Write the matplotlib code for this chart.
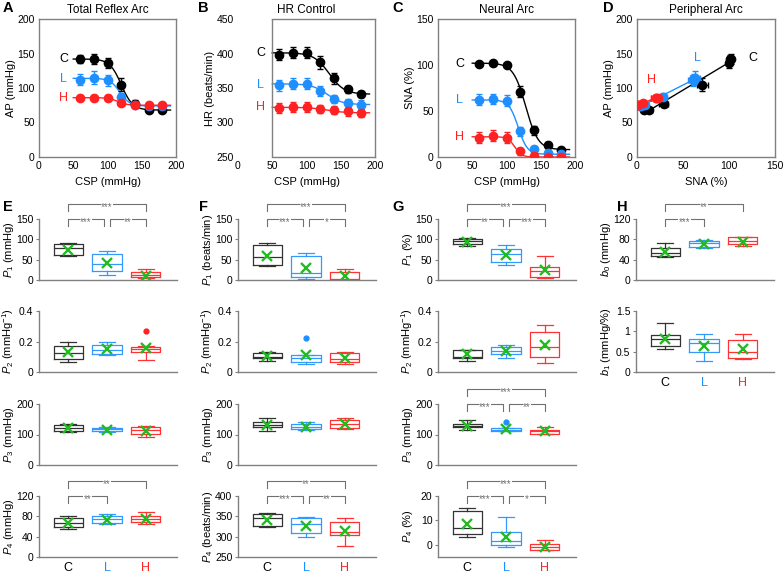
import matplotlib.pyplot as plt
import numpy as np

plt.rcParams['font.family'] = ['Liberation Sans', 'DejaVu Sans']
plt.rcParams['mathtext.fontset'] = 'custom'
plt.rcParams['mathtext.it'] = 'Liberation Sans:italic'
plt.rcParams['mathtext.rm'] = 'Liberation Sans'

groups = ['C', 'L', 'H']
colors = {'C': 'black', 'L': '#1f8fff', 'H': '#ff2222'}
box_colors = {'C': '#333333', 'L': '#3399ff', 'H': '#ff3333'}
frame_col = '#808080'
br_col = '#707070'

# ---- top row data (mean +/- SE) ----
csp = [60, 80, 100, 120, 140, 160, 180]

ap = {'C': [142, 142, 136, 105, 77, 68, 68],
      'L': [112, 115, 111, 87, 76, 74, 74],
      'H': [86, 86, 86, 78, 76, 75, 75]}
ap_err = {'C': [6, 7, 7, 10, 5, 3, 3],
          'L': [8, 9, 8, 6, 4, 3, 3],
          'H': [4, 4, 4, 3, 3, 3, 3]}

hr = {'C': [398, 401, 401, 387, 364, 348, 341],
      'L': [354, 356, 356, 346, 334, 328, 326],
      'H': [321, 322, 322, 320, 318, 316, 314]}
hr_err = {'C': [8, 8, 8, 9, 8, 5, 4],
          'L': [8, 8, 8, 7, 6, 6, 6],
          'H': [7, 7, 7, 6, 6, 6, 6]}

sna = {'C': [101, 102, 100, 71, 29, 13, 8],
       'L': [62, 63, 61, 28, 9, 4, 3],
       'H': [21, 23, 21, 6, 1, 0, 0]}
sna_err = {'C': [2, 1, 2, 6, 5, 3, 2],
           'L': [6, 5, 6, 5, 3, 2, 1],
           'H': [6, 6, 6, 4, 1, 1, 1]}

# four-parameter logistic fits (P1, P2, P3, P4)
ap_fit = {'C': (74, 0.12, 120, 68), 'L': (40, 0.14, 118, 74), 'H': (11, 0.15, 115, 75)}
hr_fit = {'C': (60, 0.09, 133, 341), 'L': (30, 0.09, 130, 326), 'H': (8, 0.08, 130, 314)}
sna_fit = {'C': (94, 0.11, 128, 8), 'L': (59, 0.15, 117, 3), 'H': (22, 0.2, 112, 0)}

# ---- box plot stats: (whislo, q1, med, q3, whishi, mean, fliers) ----
E_rows = [
    [(59, 61, 78, 88, 90, 75, []), (12, 22, 40, 63, 72, 42, []), (4, 7, 12, 19, 28, 10, [])],
    [(0.066, 0.086, 0.127, 0.17, 0.198, 0.13, []), (0.11, 0.12, 0.147, 0.18, 0.2, 0.15, []),
     (0.077, 0.13, 0.15, 0.167, 0.17, 0.155, [0.266])],
    [(109, 113, 122, 131, 136, 120, []), (107, 112, 118, 122, 125, 116, []), (92, 103, 116, 125, 129, 113, [])],
    [(55, 59, 67, 77, 80, 67, []), (64, 67, 74, 80, 84, 73, []), (64, 69, 75, 81, 88, 74, [])],
]
F_rows = [
    [(34, 37, 56, 86, 90, 60, []), (2, 7, 18, 58, 66, 29, []), (0.5, 1, 2, 19, 26, 9, [])],
    [(0.075, 0.09, 0.10, 0.125, 0.134, 0.105, []), (0.05, 0.066, 0.092, 0.11, 0.11, 0.11, [0.226]),
     (0.05, 0.066, 0.088, 0.125, 0.13, 0.09, [])],
    [(113, 125, 132, 142, 154, 132, []), (115, 118, 123, 134, 141, 124, []), (119, 121, 133, 149, 154, 133, [])],
    [(323, 327, 345, 355, 357, 342, []), (299, 310, 331, 347, 349, 327, []), (276, 304, 312, 337, 346, 314, [])],
]
G_rows = [
    [(84, 88, 96, 101, 103, 94, []), (38, 44, 63, 76, 86, 61, []), (5, 8, 23, 33, 58, 24, [])],
    [(0.075, 0.095, 0.1, 0.141, 0.141, 0.115, []), (0.092, 0.12, 0.14, 0.167, 0.174, 0.14, []),
     (0.057, 0.1, 0.163, 0.262, 0.308, 0.175, [])],
    [(116, 123, 127, 136, 148, 128, []), (111, 113, 116, 121, 122, 118, [140]), (102, 103, 110, 114, 126, 110, [])],
    [(3, 4.3, 7, 13.9, 15.2, 8.5, []), (-0.7, 0, 1.4, 5.2, 11.4, 3, []), (-2.1, -2, -1, 0.3, 1.9, -0.8, [])],
]
H_rows = [
    [(45, 47.5, 54, 63, 72.5, 56, []), (63, 65, 72, 77, 79, 70, []), (67, 71, 77, 84, 85, 75, [])],
    [(0.57, 0.63, 0.82, 0.9, 1.2, 0.82, []), (0.28, 0.48, 0.71, 0.8, 0.94, 0.65, []),
     (0.31, 0.34, 0.5, 0.78, 0.93, 0.56, [])],
]

E_labels = ['$P_1$ (mmHg)', '$P_2$ (mmHg$^{-1}$)', '$P_3$ (mmHg)', '$P_4$ (mmHg)']
F_labels = ['$P_1$ (beats/min)', '$P_2$ (mmHg$^{-1}$)', '$P_3$ (mmHg)', '$P_4$ (beats/min)']
G_labels = ['$P_1$ (%)', '$P_2$ (mmHg$^{-1}$)', '$P_3$ (mmHg)', '$P_4$ (%)']
H_labels = ['$b_0$ (mmHg)', '$b_1$ (mmHg/%)']

E_ticks = [[0, 50, 100, 150], [0, 0.2, 0.4], [0, 100, 200], [0, 40, 80, 120]]
F_ticks = [[0, 50, 100, 150], [0, 0.2, 0.4], [0, 100, 200], [250, 300, 350, 400]]
G_ticks = [[0, 50, 100, 150], [0, 0.2, 0.4], [0, 100, 200], [0, 10, 20]]
H_ticks = [[0, 40, 80, 120], [0, 0.5, 1, 1.5]]

# significance brackets: (from, to, stars, level)
E_sig = [[(1, 1.92, '***', 0), (2.08, 3, '**', 0), (1, 3, '***', 1)], [], [], [(1, 2, '**', 0), (1, 3, '**', 1)]]
F_sig = [[(1, 1.92, '***', 0), (2.08, 3, '*', 0), (1, 3, '***', 1)], [], [],
         [(1, 1.92, '***', 0), (2.08, 3, '**', 0), (1, 3, '**', 1)]]
G_sig = [[(1, 1.92, '**', 0), (2.08, 3, '***', 0), (1, 3, '***', 1)], [],
         [(1, 1.92, '***', 0), (2.08, 3, '**', 0), (1, 3, '***', 1)],
         [(1, 1.92, '***', 0), (2.08, 3, '*', 0), (1, 3, '***', 1)]]
H_sig = [[(1, 2, '***', 0), (1, 3, '**', 1)], []]

W, Hpx = 784, 574
fig = plt.figure(figsize=(W / 100, Hpx / 100), dpi=100)

col_left = [39, 238, 438, 637]
col_w = 137


def add_ax(left, top, width, height):
    return fig.add_axes([left / W, 1 - (top + height) / Hpx, width / W, height / Hpx])


def logistic(x, p):
    p1, p2, p3, p4 = p
    return p1 / (1 + np.exp(p2 * (x - p3))) + p4


def style_top(ax):
    for s in ax.spines.values():
        s.set_color(frame_col)
        s.set_linewidth(1.0)
    ax.tick_params(length=0, labelsize=7.5, pad=3)


def err_pts(ax, x, y, yerr, color, xerr=None):
    ax.errorbar(x, y, yerr=yerr, xerr=xerr, fmt='o', color=color, ms=6,
                elinewidth=1, capsize=2.5, capthick=1, zorder=3)


xs = np.linspace(50, 192, 200)
top_y = 19
top_h = 138

# A
axA = add_ax(col_left[0], top_y, col_w, top_h)
for g in groups:
    axA.plot(xs, logistic(xs, ap_fit[g]), color=colors[g], lw=1, zorder=2)
    err_pts(axA, csp, ap[g], ap_err[g], colors[g])
axA.set_xlim(0, 200)
axA.set_ylim(0, 200)
axA.set_xticks([0, 50, 100, 150, 200])
axA.set_yticks([0, 50, 100, 150, 200])
axA.set_ylabel('AP (mmHg)', fontsize=8)
for g, yv in zip(groups, [142, 113, 86]):
    axA.text(36, yv, g, color=colors[g], fontsize=9, ha='center', va='center')

# B
axB = add_ax(col_left[1], top_y, col_w, top_h)
for g in groups:
    axB.plot(xs, logistic(xs, hr_fit[g]), color=colors[g], lw=1, zorder=2)
    err_pts(axB, csp, hr[g], hr_err[g], colors[g])
axB.set_xlim(0, 200)
axB.set_ylim(250, 450)
axB.set_xticks([0, 50, 100, 150, 200])
axB.set_yticks([250, 300, 350, 400, 450])
axB.set_ylabel('HR (beats/min)', fontsize=8)
for g, yv in zip(groups, [401, 355, 322]):
    axB.text(33, yv, g, color=colors[g], fontsize=9, ha='center', va='center')

# C
axC = add_ax(col_left[2], top_y, col_w, top_h)
for g in groups:
    axC.plot(xs, logistic(xs, sna_fit[g]), color=colors[g], lw=1, zorder=2)
    err_pts(axC, csp, sna[g], sna_err[g], colors[g])
axC.set_xlim(0, 200)
axC.set_ylim(0, 150)
axC.set_xticks([0, 50, 100, 150, 200])
axC.set_yticks([0, 50, 100, 150])
axC.set_ylabel('SNA (%)', fontsize=8)
for g, yv in zip(groups, [101, 62, 22]):
    axC.text(32, yv, g, color=colors[g], fontsize=9, ha='center', va='center')

# D
axD = add_ax(col_left[3], top_y, col_w + 1, top_h)
for g in groups:
    b1, b0 = np.polyfit(sna[g], ap[g], 1)
    xl = np.array([min(sna[g]), max(sna[g])])
    axD.plot(xl, b0 + b1 * xl, color=colors[g], lw=1, zorder=2)
    err_pts(axD, sna[g], ap[g], ap_err[g], colors[g], xerr=sna_err[g])
axD.set_xlim(0, 150)
axD.set_ylim(0, 200)
axD.set_xticks([0, 50, 100, 150])
axD.set_yticks([0, 50, 100, 150, 200])
axD.set_ylabel('AP (mmHg)', fontsize=8)
axD.set_xlabel('SNA (%)', fontsize=8, labelpad=4)
for g, (xv, yv) in zip(groups, [(126, 143), (66, 143), (16, 111)]):
    axD.text(xv, yv, g, color=colors[g], fontsize=9, ha='center', va='center')

for ax in [axA, axB, axC, axD]:
    style_top(ax)
    ax.yaxis.set_label_coords(-0.17, 0.5)
for ax in [axA, axB, axC]:
    ax.set_xlabel('CSP (mmHg)', fontsize=8, labelpad=4)

# B frame starts at 50
axB.spines['left'].set_visible(False)
axB.spines['top'].set_bounds(50, 200)
axB.spines['bottom'].set_bounds(50, 200)
axB.axvline(50, color=frame_col, lw=1.0)

for ax, t in zip([axA, axB, axC, axD], ['Total Reflex Arc', 'HR Control', 'Neural Arc', 'Peripheral Arc']):
    ax.set_title(t, fontsize=8.5, pad=4)

# ---- box plot columns ----
row_tops = [219, 311, 404, 496]
row_h = 61


def bracket(ax, x1, x2, stars, level):
    top, bot = (1.0, 0.88) if level == 0 else (1.25, 1.13)
    tr = ax.get_xaxis_transform()
    ax.plot([x1, x1, x2, x2], [bot, top, top, bot], transform=tr, color=br_col, lw=0.8, clip_on=False)
    ax.annotate(stars, ((x1 + x2) / 2, top), xycoords=tr, xytext=(0, -4.2), textcoords='offset points',
                ha='center', va='baseline', fontsize=7, color=br_col, annotation_clip=False,
                bbox=dict(fc='white', ec='none', pad=0.4))


def box_panel(ax, stats, ticks, ylabel, sig, last):
    for i, (g, s) in enumerate(zip(groups, stats)):
        lo, q1, med, q3, hi, mean, fl = s
        st = dict(whislo=lo, q1=q1, med=med, q3=q3, whishi=hi, mean=mean, fliers=fl)
        c = box_colors[g]
        ax.bxp([st], positions=[i + 1], widths=0.75, capwidths=0.4, showmeans=True,
               boxprops=dict(color=c, lw=0.9), whiskerprops=dict(color=c, lw=0.9),
               capprops=dict(color=c, lw=0.9), medianprops=dict(color=c, lw=0.9),
               meanprops=dict(marker='x', markeredgecolor='#22bb22', markersize=7.5, markeredgewidth=1.7),
               flierprops=dict(marker='o', markerfacecolor=colors[g], markeredgecolor=colors[g], markersize=3.5))
    ax.set_xlim(0.25, 3.8)
    lo_lim = -5 if ticks == [0, 10, 20] else ticks[0]
    ax.set_ylim(lo_lim, ticks[-1])
    ax.set_yticks(ticks)
    ax.set_yticklabels(['%g' % t for t in ticks])
    for s in ['top', 'right']:
        ax.spines[s].set_visible(False)
    for s in ['left', 'bottom']:
        ax.spines[s].set_color(frame_col)
        ax.spines[s].set_linewidth(1.0)
    ax.tick_params(axis='y', length=2, color=frame_col, labelsize=7.5, pad=2)
    ax.tick_params(axis='x', length=0)
    ax.set_xticks([1, 2, 3])
    if last:
        ax.set_xticklabels(groups, fontsize=9)
        for lab, g in zip(ax.get_xticklabels(), groups):
            lab.set_color(colors[g])
    else:
        ax.set_xticklabels([])
    ax.set_ylabel(ylabel, fontsize=8)
    ax.yaxis.set_label_coords(-0.17, 0.5)
    for b in sig:
        bracket(ax, *b)


columns = [(E_rows, E_ticks, E_labels, E_sig), (F_rows, F_ticks, F_labels, F_sig),
           (G_rows, G_ticks, G_labels, G_sig), (H_rows, H_ticks, H_labels, H_sig)]
for ci, (rows, ticks, labels, sig) in enumerate(columns):
    n = len(rows)
    for ri in range(n):
        ax = add_ax(col_left[ci] - (1 if ci == 3 else 0), row_tops[ri], col_w + 1, row_h)
        box_panel(ax, rows[ri], ticks[ri], labels[ri], sig[ri], ri == n - 1)

# panel letters
for let, x, y in [('A', 8, 8), ('B', 203, 8), ('C', 398, 8), ('D', 608, 8),
                  ('E', 8, 207), ('F', 203, 207), ('G', 398, 207), ('H', 622, 207)]:
    fig.text(x / W, 1 - y / Hpx, let, fontsize=10.5, fontweight='bold', ha='center', va='center')

fig.savefig('out.png', dpi=100)
